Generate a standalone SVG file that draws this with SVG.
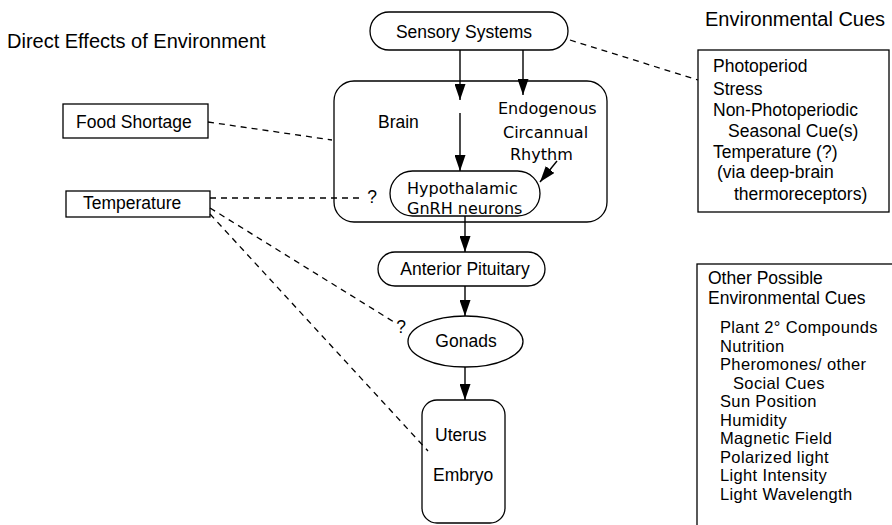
<svg xmlns="http://www.w3.org/2000/svg" width="892" height="525" viewBox="0 0 892 525">
<style>
.bg{fill:#fff}
.box{fill:#fff;stroke:#000;stroke-width:1.3}
.frame{fill:none;stroke:#000;stroke-width:1.3}
.t{font-family:"Liberation Sans",Arial,sans-serif;font-size:17.5px;fill:#000}
.s{font-family:"Liberation Sans",Arial,sans-serif;font-size:16.5px;letter-spacing:0.35px;fill:#000}
.h{font-family:"Liberation Sans",Arial,sans-serif;font-size:20px;fill:#000}
.g{font-family:"DejaVu Sans","Noto Sans",sans-serif;font-size:16px;fill:#000}
.c{text-anchor:middle}
.arr{stroke:#000;stroke-width:1.4;fill:none;marker-end:url(#ah)}
.dash{stroke:#000;stroke-width:1.3;fill:none;stroke-dasharray:6 5}
</style>
<defs>
<marker id="ah" markerUnits="userSpaceOnUse" markerWidth="16" markerHeight="11" refX="16" refY="5.5" orient="auto">
<path d="M0,0 L16,5.5 L0,11 z" fill="#000"/>
</marker>
</defs>
<rect class="bg" x="0" y="0" width="892" height="525"/>

<text class="h" x="7" y="48">Direct Effects of Environment</text>
<text class="h" x="705" y="26">Environmental Cues</text>

<g id="sensory">
<rect class="box" x="370" y="12" width="198" height="38" rx="19"/>
<text class="t c" x="464" y="38">Sensory Systems</text>
</g>

<g id="brain">
<rect class="frame" x="334" y="81" width="273" height="141" rx="20"/>
<text class="t" x="378" y="128">Brain</text>
<text class="g" x="498" y="114">Endogenous</text>
<text class="g" x="503" y="138">Circannual</text>
<text class="g" x="510" y="160">Rhythm</text>
</g>

<g id="hypothalamic">
<rect class="box" x="390" y="171" width="150" height="45" rx="22.5"/>
<text class="g" x="407" y="194">Hypothalamic</text>
<text class="g" x="407" y="214">GnRH neurons</text>
</g>

<g id="anterior">
<rect class="box" x="378" y="252" width="167" height="34" rx="17"/>
<text class="t c" x="465" y="275">Anterior Pituitary</text>
</g>

<g id="gonads">
<ellipse class="box" cx="465.5" cy="341.5" rx="57.5" ry="25.5"/>
<text class="t c" x="466" y="347">Gonads</text>
</g>

<g id="uterus">
<rect class="box" x="422" y="400" width="83" height="123" rx="15"/>
<text class="t" x="435" y="441">Uterus</text>
<text class="t" x="433" y="481">Embryo</text>
</g>

<g id="food">
<rect class="box" x="63" y="104" width="145" height="34"/>
<text class="t" x="76" y="128">Food Shortage</text>
</g>

<g id="temperature">
<rect class="box" x="66" y="191" width="144" height="26"/>
<text class="t" x="83" y="209">Temperature</text>
</g>

<g id="envcues">
<rect class="box" x="698" y="50" width="191" height="162"/>
<text class="t" x="713" y="72">Photoperiod</text>
<text class="t" x="713" y="95">Stress</text>
<text class="t" x="713" y="116">Non-Photoperiodic</text>
<text class="t" x="728" y="137">Seasonal Cue(s)</text>
<text class="t" x="713" y="158">Temperature (?)</text>
<text class="t" x="717" y="178">(via deep-brain</text>
<text class="t" x="734" y="200">thermoreceptors)</text>
</g>

<g id="othercues">
<rect class="box" x="697" y="264" width="220" height="290"/>
<text class="t" x="708" y="284">Other Possible</text>
<text class="t" x="708" y="304">Environmental Cues</text>
<text class="s" x="720" y="333">Plant 2° Compounds</text>
<text class="s" x="720" y="351.5">Nutrition</text>
<text class="s" x="720" y="370">Pheromones/ other</text>
<text class="s" x="733" y="388.5">Social Cues</text>
<text class="s" x="720" y="407">Sun Position</text>
<text class="s" x="720" y="425.5">Humidity</text>
<text class="s" x="720" y="444">Magnetic Field</text>
<text class="s" x="720" y="462.5">Polarized light</text>
<text class="s" x="720" y="481">Light Intensity</text>
<text class="s" x="720" y="499.5">Light Wavelength</text>
</g>

<g id="connectors">
<line class="arr" x1="460" y1="50" x2="460" y2="100"/>
<line class="arr" x1="523" y1="50" x2="523" y2="95"/>
<line class="arr" x1="460" y1="113" x2="460" y2="171"/>
<line class="arr" x1="557" y1="161" x2="540" y2="182"/>
<line class="arr" x1="465" y1="216" x2="465" y2="252"/>
<line class="arr" x1="465" y1="286" x2="465" y2="316"/>
<line class="arr" x1="465" y1="367" x2="465" y2="400"/>
<line class="dash" x1="570" y1="40" x2="698" y2="80"/>
<line class="dash" x1="208" y1="122" x2="332" y2="140"/>
<line class="dash" x1="210" y1="198" x2="364" y2="198"/>
<line class="dash" x1="210" y1="208" x2="394" y2="322"/>
<line class="dash" x1="210" y1="214" x2="428" y2="451"/>
<text class="t c" x="372" y="203">?</text>
<text class="t c" x="401" y="333">?</text>
</g>
</svg>
